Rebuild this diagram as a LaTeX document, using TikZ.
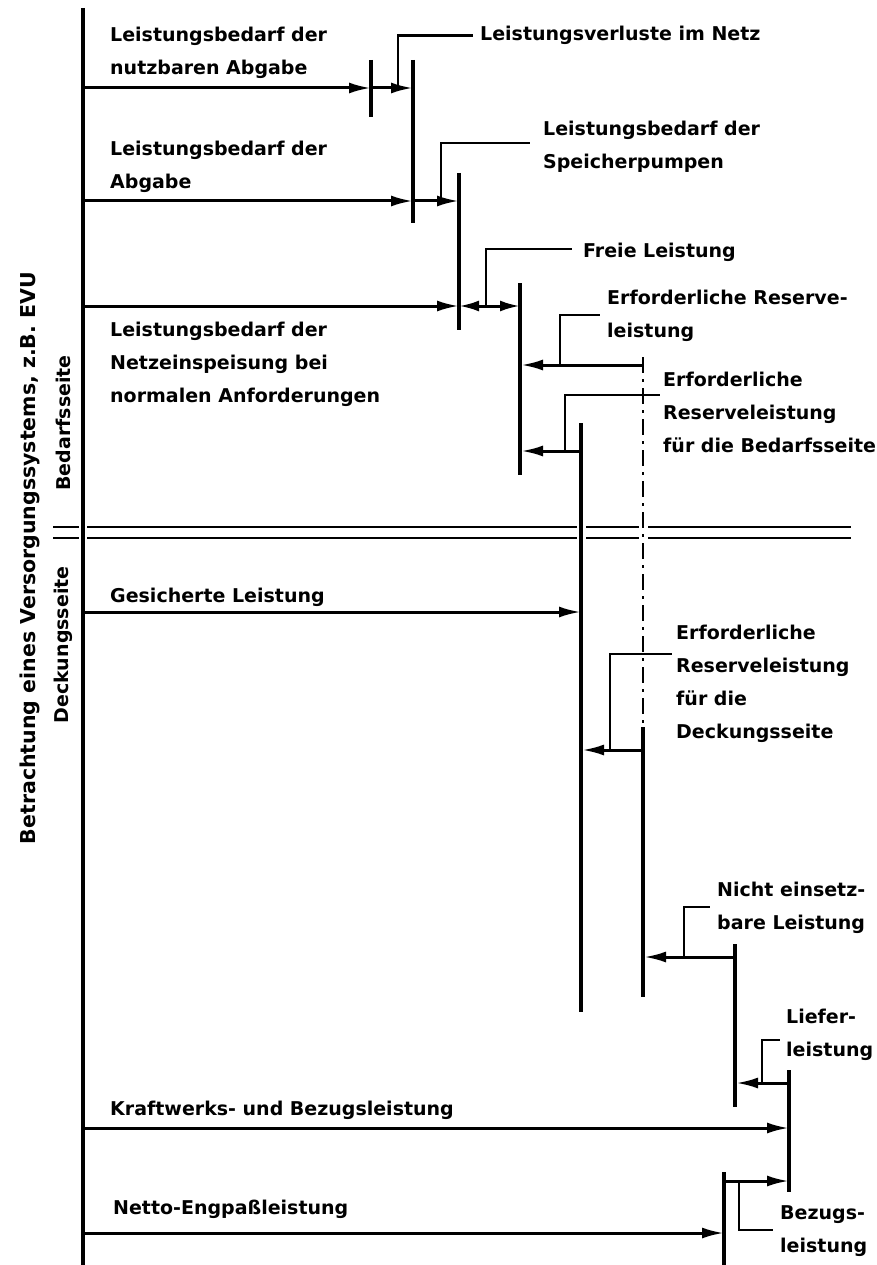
\documentclass[tikz,border=0pt]{standalone}
\usepackage{fontspec}
\setmainfont{DejaVu Sans}
\usetikzlibrary{arrows.meta}
\begin{document}
\begin{tikzpicture}[x=1pt,y=-1pt,
  lbl/.style={font=\bfseries\fontsize{19}{33}\selectfont, align=left, inner sep=0pt, anchor=north west},
  side/.style={font=\bfseries\fontsize{19}{24}\selectfont, inner sep=0pt, rotate=90},
  ln/.style={line width=3.2pt},
  ld/.style={line width=2.5pt},
  thin/.style={line width=2.2pt},
  arr/.style={line width=3pt, -{Latex[length=22pt,width=11pt]}},
  darr/.style={line width=3pt, {Latex[length=20pt,width=11pt]}-{Latex[length=20pt,width=11pt]}},
  cline/.style={line width=2.5pt, dash pattern=on 16pt off 6pt on 3pt off 6pt}]
\useasboundingbox (0,0) rectangle (877,1265);

% main axis
\coordinate (axT) at (83,8);
\coordinate (axB) at (83,1265);
\draw[ln] (axT) -- (axB);

% left labels
\node[side, font=\bfseries\fontsize{20.5}{24}\selectfont] (main) at (30,558) {Betrachtung eines Versorgungssystems, z.B. EVU};
\node[side] (bed) at (63,423) {Bedarfsseite};
\node[side] (deck) at (63,645) {Deckungsseite};

% ---------- row 1
\coordinate (r1s) at (83,88);
\coordinate (t1) at (371,88);
\coordinate (t1a) at (371,60);
\coordinate (t1b) at (371,117);
\coordinate (v1) at (413,88);
\coordinate (v1a) at (413,60);
\coordinate (v1b) at (413,223);
\draw[ln] (t1a) -- (t1b);
\draw[ln] (v1a) -- (v1b);
\draw[arr] (r1s) -- (t1);
\draw[arr] (t1) -- (v1);
\node[lbl] (n1) at (110,27) {Leistungsbedarf der\\nutzbaren Abgabe};
\node[lbl] (n2) at (480,26) {Leistungsverluste im Netz};
\coordinate (l1) at (398,88);
\draw[ld] (l1) |- ([xshift=-7pt]n2.west);

% ---------- row 2
\coordinate (r2s) at (83,201);
\coordinate (v1m) at (413,201);
\coordinate (v2) at (459,201);
\coordinate (v2a) at (459,173);
\coordinate (v2b) at (459,330);
\draw[ln] (v2a) -- (v2b);
\draw[arr] (r2s) -- (v1m);
\draw[arr] (v1m) -- (v2);
\node[lbl] (n3) at (110,141) {Leistungsbedarf der\\Abgabe};
\node[lbl] (n4) at (543,121) {Leistungsbedarf der\\Speicherpumpen};
\coordinate (l2) at (441,201);
\coordinate (l2e) at (530,143);
\draw[ld] (l2) |- (l2e);

% ---------- row 3
\coordinate (r3s) at (83,306);
\coordinate (v2m) at (459,306);
\coordinate (v3) at (520,306);
\coordinate (v3a) at (520,283);
\coordinate (v3b) at (520,475);
\draw[ln] (v3a) -- (v3b);
\draw[arr] (r3s) -- (v2m);
\draw[darr] (v2m) -- (v3);
\node[lbl] (n6) at (110,322) {Leistungsbedarf der\\Netzeinspeisung bei\\normalen Anforderungen};
\node[lbl] (n5) at (583,243) {Freie Leistung};
\coordinate (l3) at (486,306);
\coordinate (l3e) at (572,249);
\draw[ld] (l3) |- (l3e);

% ---------- Erforderliche Reserveleistung
\coordinate (d1) at (643,365);
\coordinate (v3r) at (521,365);
\draw[arr] (d1) -- (v3r);
\node[lbl] (n7) at (607,290) {Erforderliche Reserve-\\leistung};
\coordinate (l4) at (560,365);
\coordinate (l4e) at (600,315);
\draw[ld] (l4) |- (l4e);

% dash-dot reserve line
\coordinate (dT) at (643,357);
\coordinate (dM) at (643,727);
\coordinate (dB) at (643,997);
\draw[cline] (dT) -- (dM);
\draw[ln] (dM) -- (dB);

% ---------- Reserve Bedarfsseite
\coordinate (v4a) at (581,423);
\coordinate (v4b) at (581,1012);
\draw[ln] (v4a) -- (v4b);
\coordinate (e1) at (581,451);
\coordinate (v3r2) at (521,451);
\draw[arr] (e1) -- (v3r2);
\node[lbl] (n8) at (663,372) {Erforderliche\\Reserveleistung\\für die Bedarfsseite};
\coordinate (l5) at (565,451);
\coordinate (l5e) at (660,395);
\draw[ld] (l5) |- (l5e);

% ---------- separator double line
\foreach \yy in {527,538}{
  \draw[thin] (53,\yy) -- (79,\yy);
  \draw[thin] (87,\yy) -- (577,\yy);
  \draw[thin] (586,\yy) -- (639,\yy);
  \draw[thin] (648,\yy) -- (851,\yy);
}

% ---------- Gesicherte Leistung
\coordinate (r6s) at (83,612);
\coordinate (v4m) at (581,612);
\draw[arr] (r6s) -- (v4m);
\node[lbl] (n9) at (110,588) {Gesicherte Leistung};

% ---------- Reserve Deckungsseite
\coordinate (g1) at (643,750);
\coordinate (v4r) at (582,750);
\draw[arr] (g1) -- (v4r);
\node[lbl] (n10) at (676,625) {Erforderliche\\Reserveleistung\\für die\\Deckungsseite};
\coordinate (l7) at (610,750);
\coordinate (l7e) at (672,654);
\draw[ld] (l7) |- (l7e);

% ---------- Nicht einsetzbare Leistung
\coordinate (v5a) at (735,944);
\coordinate (v5b) at (735,1107);
\draw[ln] (v5a) -- (v5b);
\coordinate (h1) at (735,957);
\coordinate (dr) at (644,957);
\draw[arr] (h1) -- (dr);
\node[lbl] (n11) at (717,882) {Nicht einsetz-\\bare Leistung};
\coordinate (l8) at (684,957);
\coordinate (l8e) at (710,907);
\draw[ld] (l8) |- (l8e);

% ---------- Lieferleistung
\coordinate (v6a) at (789,1070);
\coordinate (v6b) at (789,1192);
\draw[ln] (v6a) -- (v6b);
\coordinate (i1) at (789,1083);
\coordinate (v5r) at (736,1083);
\draw[arr] (i1) -- (v5r);
\node[lbl] (n12) at (786,1009) {Liefer-\\leistung};
\coordinate (l9) at (762,1083);
\coordinate (l9e) at (780,1040);
\draw[ld] (l9) |- (l9e);

% ---------- Kraftwerks- und Bezugsleistung
\coordinate (r10s) at (83,1128);
\coordinate (v6m) at (789,1128);
\draw[arr] (r10s) -- (v6m);
\node[lbl] (n13) at (110,1101) {Kraftwerks- und Bezugsleistung};

% ---------- Bezugsleistung
\coordinate (v7a) at (724,1172);
\coordinate (v7b) at (724,1265);
\draw[ln] (v7a) -- (v7b);
\coordinate (k1) at (724,1181);
\coordinate (v6m2) at (789,1181);
\draw[arr] (k1) -- (v6m2);
\node[lbl] (n15) at (780,1205) {Bezugs-\\leistung};
\coordinate (l10) at (739,1181);
\coordinate (l10e) at (773,1230);
\draw[ld] (l10) |- (l10e);

% ---------- Netto-Engpassleistung
\coordinate (r11s) at (83,1233);
\coordinate (v7m) at (724,1233);
\draw[arr] (r11s) -- (v7m);
\node[lbl] (n14) at (113,1200) {Netto-Engpaßleistung};
\end{tikzpicture}
\end{document}
